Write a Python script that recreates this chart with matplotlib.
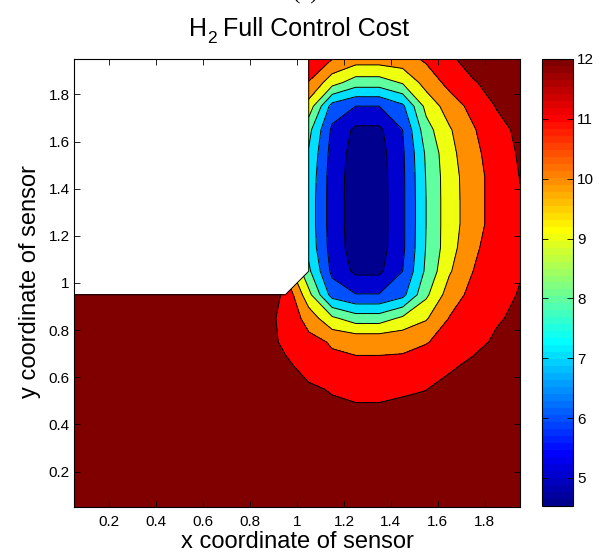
import numpy as np
import matplotlib
matplotlib.use("Agg")
import matplotlib.pyplot as plt
from matplotlib.colors import ListedColormap, Normalize
from matplotlib.cm import ScalarMappable

plt.rcParams["font.family"] = ["Liberation Sans", "DejaVu Sans"]

# sensor grid (cell centres)
x_coords = [0.05, 0.15, 0.25, 0.35, 0.45, 0.55, 0.65, 0.75, 0.85, 0.95,
            1.05, 1.15, 1.25, 1.35, 1.45, 1.55, 1.65, 1.75, 1.85, 1.95]
y_coords = [0.05, 0.15, 0.25, 0.35, 0.45, 0.55, 0.65, 0.75, 0.85, 0.95,
            1.05, 1.15, 1.25, 1.35, 1.45, 1.55, 1.65, 1.75, 1.85, 1.95]

N = np.nan
# H2 full control cost, rows listed from y = 1.95 (top) down to y = 0.05
cost_rows_top_down = [
    [N, N, N, N, N, N, N, N, N, N, 11.8, 11.0, 10.5, 10.5, 10.6, 11.15, 11.8, 12.5, 13.0, 13.3],
    [N, N, N, N, N, N, N, N, N, N, 10.95, 9.4, 8.5, 8.5, 9.1, 10.4, 11.3, 11.9, 12.4, 12.8],
    [N, N, N, N, N, N, N, N, N, N, 9.6, 6.6, 6.0, 6.0, 6.8, 9.3, 10.5, 11.3, 12.05, 12.5],
    [N, N, N, N, N, N, N, N, N, N, 8.3, 5.8, 4.8, 4.8, 6.0, 8.6, 9.9, 10.9, 11.7, 12.2],
    [N, N, N, N, N, N, N, N, N, N, 7.9, 5.6, 4.6, 4.6, 5.85, 8.15, 9.7, 10.7, 11.55, 12.1],
    [N, N, N, N, N, N, N, N, N, N, 7.7, 5.5, 4.55, 4.55, 5.8, 8.05, 9.6, 10.55, 11.45, 12.02],
    [N, N, N, N, N, N, N, N, N, N, 7.6, 5.5, 4.53, 4.53, 5.8, 8.0, 9.6, 10.5, 11.5, 11.95],
    [N, N, N, N, N, N, N, N, N, N, 7.6, 5.5, 4.53, 4.53, 5.8, 8.0, 9.6, 10.5, 11.5, 11.92],
    [N, N, N, N, N, N, N, N, N, N, 7.7, 5.55, 4.55, 4.55, 5.8, 8.05, 9.6, 10.8, 11.5, 11.92],
    [N, N, N, N, N, N, N, N, N, N, 8.2, 5.75, 4.8, 4.8, 6.0, 8.2, 9.9, 11.0, 11.6, 11.95],
    [13.6, 13.5, 13.4, 13.2, 13.0, 12.9, 12.7, 12.55, 12.4, 11.9, 9.3, 6.6, 6.05, 6.05, 6.7, 8.8, 10.5, 11.3, 11.75, 12.05],
    [13.6, 13.5, 13.4, 13.2, 13.0, 12.85, 12.7, 12.5, 12.3, 11.8, 10.6, 9.2, 8.5, 8.5, 9.2, 9.9, 11.05, 11.6, 11.9, 12.2],
    [13.7, 13.6, 13.4, 13.2, 13.0, 12.85, 12.7, 12.5, 12.35, 11.85, 11.3, 10.9, 10.8, 10.8, 10.8, 10.95, 11.3, 11.7, 12.15, 12.5],
    [13.8, 13.6, 13.5, 13.3, 13.1, 12.9, 12.75, 12.55, 12.4, 12.13, 11.75, 11.25, 11.15, 11.15, 11.2, 11.45, 11.85, 12.2, 12.5, 12.8],
    [13.9, 13.7, 13.6, 13.4, 13.2, 13.0, 12.85, 12.7, 12.55, 12.4, 12.1, 11.95, 11.8, 11.8, 11.9, 11.98, 12.3, 12.6, 12.9, 13.1],
    [14.0, 13.8, 13.7, 13.5, 13.3, 13.1, 12.95, 12.8, 12.65, 12.5, 12.4, 12.15, 12.15, 12.15, 12.2, 12.3, 12.6, 12.9, 13.1, 13.3],
    [14.1, 13.9, 13.8, 13.6, 13.4, 13.3, 13.1, 12.95, 12.85, 12.75, 12.7, 12.4, 12.4, 12.4, 12.45, 12.55, 12.8, 13.1, 13.3, 13.5],
    [14.2, 14.0, 13.9, 13.7, 13.5, 13.4, 13.25, 13.1, 13.0, 12.95, 12.9, 12.6, 12.6, 12.6, 12.65, 12.75, 13.0, 13.25, 13.5, 13.7],
    [14.3, 14.1, 14.0, 13.8, 13.6, 13.5, 13.4, 13.25, 13.15, 13.1, 13.0, 12.75, 12.75, 12.75, 12.8, 12.9, 13.15, 13.4, 13.6, 13.8],
    [14.4, 14.2, 14.1, 13.9, 13.7, 13.6, 13.5, 13.4, 13.3, 13.2, 13.1, 12.85, 12.85, 12.85, 12.9, 13.0, 13.3, 13.5, 13.7, 13.9],
]

contour_levels = [5, 6, 7, 8, 9, 10, 11, 12]
cbar_ticks = [5, 6, 7, 8, 9, 10, 11, 12]
cbar_limits = (4.53, 12.0)
axis_ticks = [0.2, 0.4, 0.6, 0.8, 1.0, 1.2, 1.4, 1.6, 1.8]
axis_ticklabels = ["0.2", "0.4", "0.6", "0.8", "1", "1.2", "1.4", "1.6", "1.8"]


def matlab_jet(m=64):
    n = int(np.ceil(m / 4))
    u = np.concatenate([np.arange(1, n + 1) / n, np.ones(n - 1), np.arange(n, 0, -1) / n])
    g = int(np.ceil(n / 2)) - (1 if m % 4 == 1 else 0) + np.arange(1, len(u) + 1)
    r = g + n
    b = g - n
    J = np.zeros((m, 3))
    rr = r[r <= m]
    J[rr - 1, 0] = u[:len(rr)]
    J[g - 1, 1] = u
    bb = b[b >= 1]
    J[bb - 1, 2] = u[len(u) - len(bb):]
    return J


jet64 = matlab_jet(64)
cmin, cmax = cbar_limits


def level_color(v):
    idx = int(np.floor((v - cmin) / (cmax - cmin) * 64))
    return jet64[min(max(idx, 0), 63)]


X, Y = np.meshgrid(x_coords, y_coords)
Z = np.ma.masked_invalid(np.array(cost_rows_top_down[::-1]))

band_edges = [float(Z.min())] + contour_levels + [float(Z.max()) + 0.01]
band_colors = [level_color(v) for v in band_edges[:-1]]

W, H = 599, 552
fig = plt.figure(figsize=(W / 100, H / 100), dpi=100)
ax = fig.add_axes([74 / W, 1 - 507 / H, (520 - 74) / W, (507 - 59) / H])
cax = fig.add_axes([542 / W, 1 - 506 / H, 31 / W, (506 - 59) / H])

ax.contourf(X, Y, Z, levels=band_edges, colors=band_colors, corner_mask=True)
ax.contour(X, Y, Z, levels=contour_levels, colors="black", linewidths=0.7,
           corner_mask=True)

# outline of the excluded region
xb = [x_coords[0], x_coords[9], x_coords[10], x_coords[10]]
yb = [y_coords[9], y_coords[9], y_coords[10], y_coords[-1]]
ax.plot(xb, yb, color="black", lw=0.7)

ax.set_xlim(x_coords[0], x_coords[-1])
ax.set_ylim(y_coords[0], y_coords[-1])
ax.set_xticks(axis_ticks)
ax.set_xticklabels(axis_ticklabels)
ax.set_yticks(axis_ticks)
ax.set_yticklabels(axis_ticklabels)
ax.tick_params(direction="in", top=True, right=True, length=4.5, width=0.6,
               labelsize=11)
ax.tick_params(axis="x", pad=6)
ax.tick_params(axis="y", pad=3)
for s in ax.spines.values():
    s.set_linewidth(0.8)

sm = ScalarMappable(norm=Normalize(cmin, cmax), cmap=ListedColormap(jet64))
cb = fig.colorbar(sm, cax=cax, ticks=cbar_ticks)
cb.ax.tick_params(direction="in", left=True, right=True, length=4.5, width=0.6,
                  labelsize=11, pad=3)
cb.outline.set_linewidth(0.8)

# title "H_2 Full Control Cost" assembled from pieces (lowered subscript)
renderer = fig.canvas.get_renderer()
title_size, sub_size = 18, 12.5
base_y = 1 - 36 / H
sub_y = 1 - 43 / H
parts = [("H", title_size, base_y), ("2", sub_size, sub_y),
         (" Full Control Cost", title_size, base_y)]
widths = []
for txt, fs, _ in parts:
    t = fig.text(0, 0, txt, fontsize=fs)
    widths.append(t.get_window_extent(renderer).width)
    t.remove()
x0 = 299 - sum(widths) / 2
for (txt, fs, yy), w in zip(parts, widths):
    fig.text(x0 / W, yy, txt, fontsize=fs, ha="left", va="baseline")
    x0 += w

fig.text(305 / W, 1 + 1 / H, "(c)", ha="center", va="baseline",
         fontsize=16, family=["Liberation Serif", "DejaVu Serif"])
fig.text(297 / W, 1 - 548 / H, "x coordinate of sensor", ha="center",
         va="baseline", fontsize=17)
fig.text(30 / W, 1 - 282 / H, "y coordinate of sensor", ha="center",
         va="center", rotation=90, fontsize=17)

fig.savefig("out.png", dpi=100)
